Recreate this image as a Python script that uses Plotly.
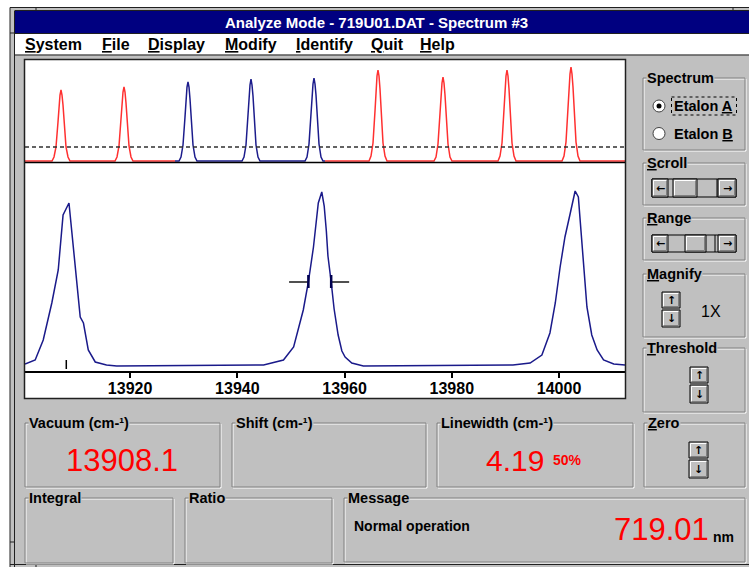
import plotly.graph_objects as go

W, H = 749, 567

# ---------------- data ----------------
window_title = "Analyze Mode - 719U01.DAT - Spectrum #3"
menu_labels = ["<u>S</u>ystem", "<u>F</u>ile", "<u>D</u>isplay", "<u>M</u>odify",
               "<u>I</u>dentify", "<u>Q</u>uit", "<u>H</u>elp"]

# upper panel: etalon fringes (channel vs. intensity)
etalon_red1_ch = [0, 27, 29, 31, 33, 34, 35, 36, 37, 38, 39, 41, 43, 45,
                  90, 92, 94, 96, 97, 98, 99, 100, 101, 102, 104, 106, 108, 150]
etalon_red1_val = [2, 2, 6, 16, 41, 58, 68, 73, 68, 58, 41, 16, 6, 2,
                   2, 6, 17, 43, 60, 71, 76, 71, 60, 43, 17, 6, 2, 2]
etalon_blue_ch = [150, 154, 156, 158, 160, 161, 162, 163, 164, 165, 166, 168, 170, 172,
                  217, 219, 221, 223, 224, 225, 226, 227, 228, 229, 231, 233, 235,
                  280, 282, 284, 286, 287, 288, 289, 290, 291, 292, 294, 296, 298, 300]
etalon_blue_val = [2, 2, 6, 18, 46, 64, 76, 81, 76, 64, 46, 18, 6, 2,
                   2, 6, 18, 47, 67, 78, 84, 78, 67, 47, 18, 6, 2,
                   2, 6, 19, 48, 68, 79, 85, 79, 68, 48, 19, 6, 2, 2]
etalon_red2_ch = [300, 344, 346, 348, 350, 351, 352, 353, 354, 355, 356, 358, 360, 362,
                  409, 411, 413, 415, 416, 417, 418, 419, 420, 421, 423, 425, 427,
                  473, 475, 477, 479, 480, 481, 482, 483, 484, 485, 487, 489, 491,
                  537, 539, 541, 543, 544, 545, 546, 547, 548, 549, 551, 553, 555, 600]
etalon_red2_val = [2, 2, 7, 20, 52, 74, 87, 93, 87, 74, 52, 20, 7, 2,
                   2, 6, 19, 48, 68, 80, 86, 80, 68, 48, 19, 6, 2,
                   2, 7, 20, 52, 74, 87, 93, 87, 74, 52, 20, 7, 2,
                   2, 7, 21, 54, 76, 89, 96, 89, 76, 54, 21, 7, 2, 2]
threshold_level = 16

# lower panel: spectrum (wavenumber cm-1 vs. intensity)
spectrum_wn = [13900.4, 13902.3, 13903.8, 13905.4, 13906.6, 13907.5, 13908.6, 13909.1,
               13910.0, 13910.7, 13911.3, 13912.2, 13913.5, 13915.6, 13917.5,
               13944.9, 13948.6, 13950.5, 13952.3, 13953.25, 13954.2, 13955.1, 13955.75,
               13956.2, 13956.6, 13956.9, 13957.5, 13958.05, 13958.8, 13959.5, 13960.1,
               13961.35, 13963.5,
               13991.4, 13994.6, 13996.8, 13998.3, 13999.3, 14000.2, 14001.1, 14002.1,
               14003.0, 14003.6, 14004.3, 14005.2, 14006.1, 14007.1, 14008.3, 14010.2, 14012.3]
spectrum_int = [7, 11, 31, 68, 101, 156, 168, 141,
                98, 54, 48, 21, 9, 6, 5,
                6, 11, 24, 61, 89, 124, 168, 179,
                165, 140, 115, 89, 62, 36, 20, 14,
                8, 5,
                6, 8, 16, 38, 68, 104, 134, 158,
                180, 174, 128, 64, 36, 21, 11, 7, 6]
wn_range = [13900.4, 14012.3]
tick_wn = [13920, 13940, 13960, 13980, 14000]
tick_labels = ["13920", "13940", "13960", "13980", "14000"]

line_position = 13908.1
marker_int = [2, 11]
half_max = 89
fwhm_left = 13953.25
fwhm_right = 13957.5
cursor_ext = [13949.65, 13960.85]

vacuum_value = "13908.1"
linewidth_value = "4.19"
linewidth_level = "50%"
wavelength_value = "719.01"
wavelength_unit = "nm"
message_text = "Normal operation"
magnify_text = "1X"

# ---------------- helpers ----------------
def X(px):
    return px / W


def Y(py):
    return 1 - py / H


shapes = []
annotations = []
GRAY = "#c0c0c0"
DARK = "#808080"
FONT = "Arial, Liberation Sans, sans-serif"


def line(x0, y0, x1, y1, color, w=1, dash=None, layer="above"):
    ln = dict(color=color, width=w)
    if dash:
        ln["dash"] = dash
    shapes.append(dict(type="line", xref="paper", yref="paper", x0=X(x0), y0=Y(y0),
                       x1=X(x1), y1=Y(y1), line=ln, layer=layer))


def rect(x0, y0, x1, y1, fill=None, color=None, w=1, layer="above", dash=None, kind="rect"):
    ln = dict(color=color if color else "rgba(0,0,0,0)", width=w if color else 0)
    if dash:
        ln["dash"] = dash
    shapes.append(dict(type=kind, xref="paper", yref="paper", x0=X(x0), y0=Y(y0),
                       x1=X(x1), y1=Y(y1), fillcolor=fill if fill else "rgba(0,0,0,0)",
                       line=ln, layer=layer))


def txt(px, py, text, size=14.5, color="black", xanchor="left", bg=None, family=FONT):
    a = dict(xref="paper", yref="paper", x=X(px), y=Y(py), text=text, showarrow=False,
             xanchor=xanchor, yanchor="middle", font=dict(size=size, color=color, family=family),
             borderpad=0)
    if bg:
        a["bgcolor"] = bg
    annotations.append(a)


def group(x0, y0, x1, y1, label):
    rect(x0 + 1, y0 + 1, x1 + 1, y1 + 1, color="white", w=1)
    rect(x0, y0, x1, y1, color=DARK, w=1)
    txt(x0 + 3, y0, "<b>" + label + "</b>", bg=GRAY)


def button(x0, y0, x1, y1):
    rect(x0, y0, x1, y1, fill=GRAY, color="black", w=1)
    line(x0 + 1.5, y0 + 1.5, x1 - 1.5, y0 + 1.5, "white")
    line(x0 + 1.5, y0 + 1.5, x0 + 1.5, y1 - 1.5, "white")
    line(x0 + 1.5, y1 - 1.5, x1 - 1.5, y1 - 1.5, DARK)
    line(x1 - 1.5, y0 + 1.5, x1 - 1.5, y1 - 1.5, DARK)


def arrow(px, py, ch):
    txt(px, py, "<b>" + ch + "</b>", size=11, xanchor="center",
        family="DejaVu Sans, sans-serif")


def spin(x0, y0, x1, ymid, y1):
    button(x0, y0, x1, ymid - 1)
    button(x0, ymid + 1, x1, y1)
    arrow((x0 + x1) / 2, (y0 + ymid) / 2, "↑")
    arrow((x0 + x1) / 2, (ymid + y1) / 2 + 0.5, "↓")


def scrollbar(y0, y1, thumb0, thumb1, extra):
    rect(652, y0, 736, y1, fill=GRAY, color="black", w=1)
    button(652, y0, 668, y1)
    button(718, y0, 736, y1)
    button(thumb0, y0, thumb1, y1)
    line(extra, y0, extra, y1, "black")
    arrow(660, (y0 + y1) / 2, "←")
    arrow(727, (y0 + y1) / 2, "→")


# ---------------- window chrome ----------------
rect(0, 0, 10, H, fill="white", layer="below")
rect(0, 0, W, 7.5, fill="white", layer="below")
rect(15, 11, W, 33, fill="#000080", layer="below")
rect(15, 34, W, 54.5, fill="white", layer="below")
line(10, 7.5, W, 7.5, "#202020")
line(10, 7.5, 10, H, "#202020")
line(14.5, 11, 14.5, H, "#202020")
line(14.5, 10.5, W, 10.5, "#202020")
line(14.5, 33.5, W, 33.5, "#202020")
line(14.5, 55, W, 55, "#202020")
line(36, 7.5, 36, 10.5, "#202020")
line(733, 7.5, 733, 10.5, "#202020")
line(10, 33, 14.5, 33, "#202020")
line(10, 542, 14.5, 542, "#202020")
line(10, 564.5, W, 564.5, "#202020")
line(36, 564.5, 36, H, "#202020")

txt(376.5, 22, "<b>" + window_title + "</b>", size=15, color="white", xanchor="center")
menu_left = [24, 101, 147, 224, 295, 370, 419]
for lbl, lx in zip(menu_labels, menu_left):
    txt(lx, 44, "<b>" + lbl + "</b>", size=16)

# plot panel
rect(25, 60, 625, 398, fill="white", layer="below")
rect(24.5, 59.5, 625.5, 398.5, color="#202020", w=1.5)
line(25, 162.5, 625, 162.5, "black", w=1.5)

# right-hand controls
group(643, 78, 745, 150, "Spectrum")
rect(653, 100, 665, 112, fill="white", color="#404040", w=1, kind="circle")
rect(656.5, 103.5, 661.5, 108.5, fill="black", kind="circle")
rect(653, 127.5, 665, 139.5, fill="white", color="#404040", w=1, kind="circle")
rect(671.5, 97, 736.5, 115, color="black", w=1, dash="dot")
txt(673, 106, "<b>Etalon <u>A</u></b>")
txt(673, 133.5, "<b>Etalon <u>B</u></b>")

group(643, 163, 745, 205, "<u>S</u>croll")
scrollbar(179, 197, 673, 697, 717)
group(643, 218, 745, 260, "<u>R</u>ange")
scrollbar(235, 252, 685, 706, 715)

group(643, 274, 745, 337, "<u>M</u>agnify")
spin(662, 292, 680, 309, 327)
txt(700, 311, magnify_text, size=16)

group(643, 348, 745, 412, "<u>T</u>hreshold")
spin(690, 367, 708, 384, 403)

group(644, 423, 745, 487, "<u>Z</u>ero")
spin(689, 442, 708, 459, 478)

# bottom readouts
group(25, 423, 220, 487, "Vacuum (cm-¹)")
group(232, 423, 426, 487, "Shift (cm-¹)")
group(437, 423, 633, 487, "Linewidth (cm-¹)")
group(25, 498, 173, 563, "Integral")
group(185, 498, 332, 563, "Ratio")
group(344, 498, 745, 562, "Message")

RED = "#ff0000"
txt(121.5, 460, vacuum_value, size=31, color=RED, xanchor="center")
txt(545, 460, linewidth_value, size=30, color=RED, xanchor="right")
txt(552, 460, "<b>" + linewidth_level + "</b>", size=14, color=RED)
txt(353, 526, "<b>" + message_text + "</b>", size=14)
txt(710, 529, wavelength_value, size=31, color=RED, xanchor="right")
txt(712, 537, "<b>" + wavelength_unit + "</b>", size=14)

# ---------------- traces ----------------
fig = go.Figure()
ETA_RED = "#ff3030"
ETA_BLUE = "#1c1c8c"
NAVY = "#1a1a8a"
for xs, ys, col in [(etalon_red1_ch, etalon_red1_val, ETA_RED),
                    (etalon_blue_ch, etalon_blue_val, ETA_BLUE),
                    (etalon_red2_ch, etalon_red2_val, ETA_RED)]:
    fig.add_trace(go.Scatter(x=xs, y=ys, mode="lines", line=dict(color=col, width=1.5),
                             xaxis="x", yaxis="y", hoverinfo="skip"))

shapes.append(dict(type="line", xref="x domain", yref="y", x0=0, x1=1,
                   y0=threshold_level, y1=threshold_level,
                   line=dict(color="#303030", width=1.5, dash="4px,3px"), layer="above"))

fig.add_trace(go.Scatter(x=spectrum_wn, y=spectrum_int, mode="lines",
                         line=dict(color=NAVY, width=1.5), xaxis="x2", yaxis="y2",
                         hoverinfo="skip"))
fig.add_trace(go.Scatter(x=[line_position, line_position], y=marker_int, mode="lines",
                         line=dict(color="black", width=1.5), xaxis="x2", yaxis="y2",
                         hoverinfo="skip"))
fig.add_trace(go.Scatter(x=[cursor_ext[0], fwhm_left, None, fwhm_right, cursor_ext[1]],
                         y=[half_max, half_max, None, half_max, half_max], mode="lines",
                         line=dict(color="#505050", width=2), xaxis="x2", yaxis="y2",
                         hoverinfo="skip"))
fig.add_trace(go.Scatter(x=[fwhm_left, fwhm_left, None, fwhm_right, fwhm_right],
                         y=[half_max - 6, half_max + 7, None, half_max - 6, half_max + 7],
                         mode="lines", line=dict(color="#000050", width=2.5),
                         xaxis="x2", yaxis="y2", hoverinfo="skip"))

fig.update_layout(
    width=W, height=H, margin=dict(l=0, r=0, t=0, b=0),
    paper_bgcolor=GRAY, plot_bgcolor="white", showlegend=False,
    xaxis=dict(domain=[X(25), X(625)], range=[0, 600], visible=False, anchor="y",
               fixedrange=True),
    yaxis=dict(domain=[Y(163), Y(60)], range=[0, 103], visible=False, anchor="x",
               fixedrange=True),
    xaxis2=dict(domain=[X(25), X(625)], range=wn_range, anchor="y2",
                showline=True, linecolor="black", linewidth=2, mirror=False,
                ticks="outside", ticklen=5, tickwidth=1.5, tickcolor="black",
                ticklabelstandoff=-3,
                tickvals=tick_wn, ticktext=["<b>" + t + "</b>" for t in tick_labels],
                tickfont=dict(size=16, color="black", family=FONT),
                showgrid=False, zeroline=False, fixedrange=True),
    yaxis2=dict(domain=[Y(371), Y(163)], range=[0, 208], visible=False, anchor="x2",
                fixedrange=True),
    shapes=shapes, annotations=annotations,
)

fig.write_html("out.html")
